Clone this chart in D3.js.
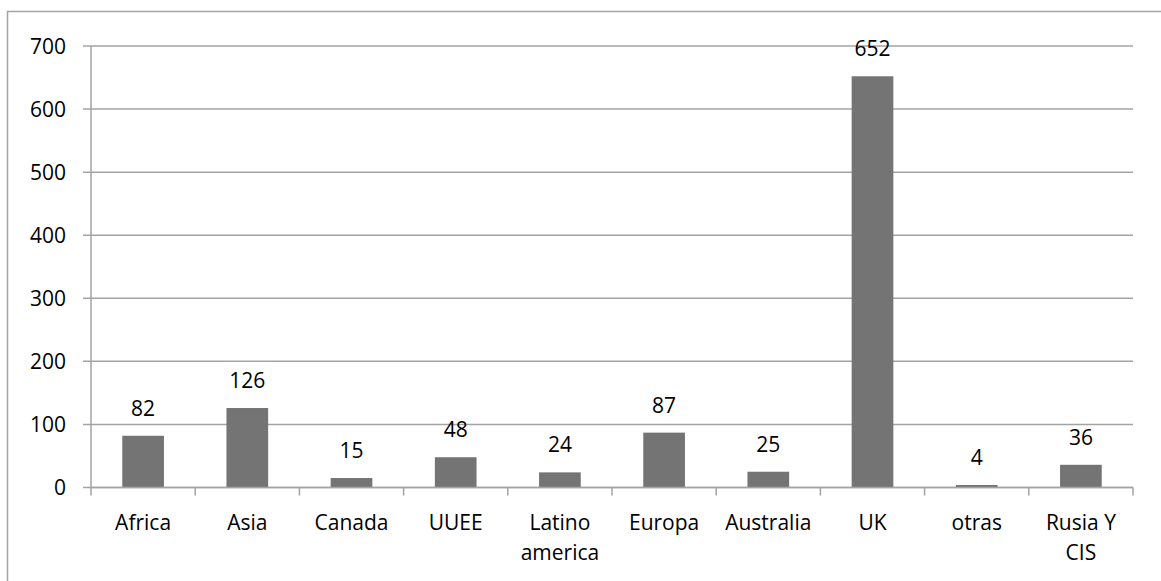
<!DOCTYPE html>
<html>
<head>
<meta charset="utf-8">
<script src="https://cdn.jsdelivr.net/npm/d3@7"></script>
<style>
  body { margin: 0; background: #fff; }
  text { font-family: "Open Sans", sans-serif; font-size: 21px; fill: #000; }
</style>
</head>
<body>
<script>
  'use strict';

  var categories = ["Africa", "Asia", "Canada", "UUEE", "Latino america", "Europa", "Australia", "UK", "otras", "Rusia Y CIS"];
  var categoryLines = [["Africa"], ["Asia"], ["Canada"], ["UUEE"], ["Latino", "america"], ["Europa"], ["Australia"], ["UK"], ["otras"], ["Rusia Y", "CIS"]];
  var values = [82, 126, 15, 48, 24, 87, 25, 652, 4, 36];
  var yTicks = [0, 100, 200, 300, 400, 500, 600, 700];

  var width = 1161;
  var height = 581;
  var margin = { top: 46, right: 28, bottom: 93.5, left: 91 };
  var gridColor = "#a3a3a3";

  var svg = d3.select("body")
    .append("svg")
    .attr("width", width)
    .attr("height", height);

  // outer chart border
  svg.append("rect")
    .attr("x", 7.5)
    .attr("y", 11.5)
    .attr("width", width)
    .attr("height", height)
    .attr("fill", "none")
    .attr("stroke", gridColor)
    .attr("stroke-width", 1.5);

  var x = d3.scaleBand()
    .domain(categories)
    .range([margin.left, width - margin.right])
    .paddingInner(0.6)
    .paddingOuter(0.3);

  var y = d3.scaleLinear()
    .domain([0, 700])
    .range([height - margin.bottom, margin.top]);

  var g = svg.append("g");

  // horizontal gridlines + y tick marks
  g.selectAll("line.grid")
    .data(yTicks)
    .enter()
    .append("line")
    .attr("class", "grid")
    .attr("x1", margin.left - 8)
    .attr("x2", width - margin.right)
    .attr("y1", function (d) { return y(d); })
    .attr("y2", function (d) { return y(d); })
    .attr("stroke", gridColor)
    .attr("stroke-width", 1.5);

  g.selectAll("text.ylab")
    .data(yTicks)
    .enter()
    .append("text")
    .attr("class", "ylab")
    .attr("x", 66)
    .attr("y", function (d) { return y(d); })
    .attr("dy", "0.36em")
    .attr("text-anchor", "end")
    .text(function (d) { return d; });

  // y axis line
  g.append("line")
    .attr("x1", margin.left)
    .attr("x2", margin.left)
    .attr("y1", y(700))
    .attr("y2", y(0))
    .attr("stroke", gridColor)
    .attr("stroke-width", 1.5);

  // category boundary ticks
  var step = x.step();
  var x0 = margin.left;
  var boundaries = d3.range(categories.length + 1);
  g.selectAll("line.xtick")
    .data(boundaries)
    .enter()
    .append("line")
    .attr("class", "xtick")
    .attr("x1", function (i) { return x0 + i * (width - margin.right - margin.left) / categories.length; })
    .attr("x2", function (i) { return x0 + i * (width - margin.right - margin.left) / categories.length; })
    .attr("y1", y(0))
    .attr("y2", y(0) + 8)
    .attr("stroke", gridColor)
    .attr("stroke-width", 1.5);

  // bars
  g.selectAll("rect.bar")
    .data(values)
    .enter()
    .append("rect")
    .attr("class", "bar")
    .attr("x", function (d, i) { return x(categories[i]); })
    .attr("y", function (d) { return y(d); })
    .attr("width", x.bandwidth())
    .attr("height", function (d) { return y(0) - y(d); })
    .attr("fill", "#747474");

  // redraw baseline over bars
  g.append("line")
    .attr("x1", margin.left)
    .attr("x2", width - margin.right)
    .attr("y1", y(0))
    .attr("y2", y(0))
    .attr("stroke", gridColor)
    .attr("stroke-width", 1.5);

  // value labels
  g.selectAll("text.val")
    .data(values)
    .enter()
    .append("text")
    .attr("class", "val")
    .attr("x", function (d, i) { return x(categories[i]) + x.bandwidth() / 2; })
    .attr("y", function (d) { return y(d) - 20; })
    .attr("text-anchor", "middle")
    .text(function (d) { return d; });

  // category labels
  var cats = g.selectAll("text.cat")
    .data(categoryLines)
    .enter()
    .append("text")
    .attr("class", "cat")
    .attr("text-anchor", "middle")
    .attr("transform", function (d, i) {
      return "translate(" + (x(categories[i]) + x.bandwidth() / 2) + "," + 530 + ")";
    });

  cats.selectAll("tspan")
    .data(function (d) { return d; })
    .enter()
    .append("tspan")
    .attr("x", 0)
    .attr("y", function (d, i) { return i * 30; })
    .text(function (d) { return d; });
</script>
</body>
</html>
